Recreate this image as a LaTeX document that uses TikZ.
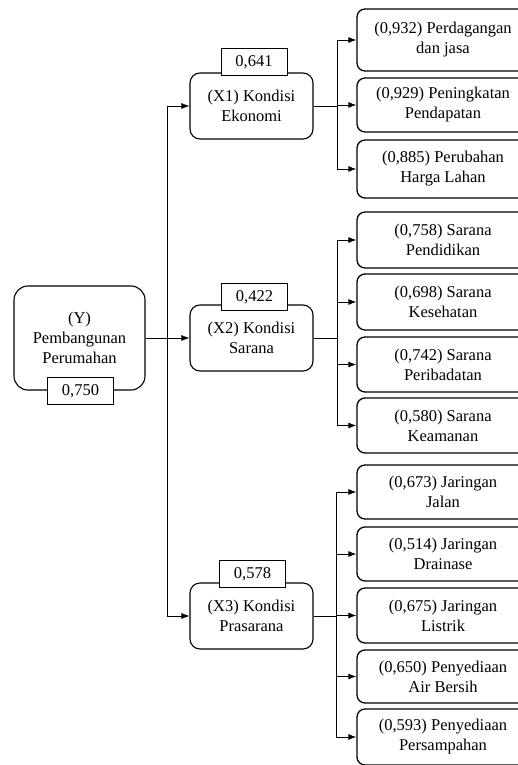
\documentclass[tikz,border=0pt]{standalone}
\usepackage{fontspec}
\setmainfont{Liberation Serif}
\usetikzlibrary{arrows.meta}

\tikzset{
  mainbox/.style={draw, line width=1.1pt, rounded corners=10pt, align=center, minimum width=123pt, minimum height=66pt, inner sep=0pt},
  ybox/.style={mainbox, minimum width=131pt, minimum height=104pt, rounded corners=14pt},
  subbox/.style={draw, line width=1.3pt, rounded corners=8pt, align=center, minimum width=172pt, minimum height=55pt, inner sep=0pt},
  valbox/.style={draw, line width=1pt, fill=white, minimum width=66pt, minimum height=27pt, inner sep=0pt},
  link/.style={line width=0.8pt},
  arr/.style={link, -{Latex[length=8pt,width=6pt]}}
}

\begin{document}
\begin{tikzpicture}[x=1pt, y=-1pt, font=\fontsize{16.5}{20}\selectfont]
\useasboundingbox (0,0) rectangle (518,765);
\clip (0,0) rectangle (518,765);
% variabel utama
\node[ybox] (Y) at (79.5,338) {(Y)\\Pembangunan\\Perumahan};
\node[valbox] (vY) at (80.5,391) {0,750};
\node[mainbox] (X1) at (251.5,106) {(X1) Kondisi\\Ekonomi};
\node[valbox] (v1) at (254,62) {0,641};
\node[mainbox] (X2) at (251.5,338) {(X2) Kondisi\\Sarana};
\node[valbox] (v2) at (254.5,297) {0,422};
\node[mainbox] (X3) at (251.5,616) {(X3) Kondisi\\Prasarana};
\node[valbox] (v3) at (252.5,574) {0,578};
% indikator
\node[subbox, minimum height=62pt] (a1) at (443,40) {(0,932) Perdagangan\\dan jasa};
\node[subbox, minimum height=54pt] (a2) at (443,105) {(0,929) Peningkatan\\Pendapatan};
\node[subbox, minimum height=58pt] (a3) at (443,169) {(0,885) Perubahan\\Harga Lahan};
\node[subbox, minimum height=56pt] (b1) at (443,240) {(0,758) Sarana\\Pendidikan};
\node[subbox, minimum height=56pt] (b2) at (443,302) {(0,698) Sarana\\Kesehatan};
\node[subbox] (b3) at (443,364.5) {(0,742) Sarana\\Peribadatan};
\node[subbox] (b4) at (443,425.5) {(0,580) Sarana\\Keamanan};
\node[subbox, minimum height=54pt] (c1) at (443,492) {(0,673) Jaringan\\Jalan};
\node[subbox, minimum height=54pt] (c2) at (443,554) {(0,514) Jaringan\\Drainase};
\node[subbox] (c3) at (443,615.5) {(0,675) Jaringan\\Listrik};
\node[subbox, minimum height=53pt] (c4) at (443,676.5) {(0,650) Penyediaan\\Air Bersih};
\node[subbox, minimum height=56pt] (c5) at (443,737) {(0,593) Penyediaan\\Persampahan};
% garis penghubung
\coordinate (t0) at (167,338);
\coordinate (s1) at (337,106);
\coordinate (s2) at (337,338);
\coordinate (s3) at (336,616);
\draw[arr] (Y) -- (X2);
\draw[arr] (t0) |- (X1);
\draw[arr] (t0) |- (X3);
\draw[link] (X1) -- (s1);
\draw[link] (X2) -- (s2);
\draw[link] (X3) -- (s3);
\foreach \n in {a1,a2,a3} \draw[arr] (s1) |- (\n);
\foreach \n in {b1,b2,b3,b4} \draw[arr] (s2) |- (\n);
\foreach \n in {c1,c2,c3,c4,c5} \draw[arr] (s3) |- (\n);
\end{tikzpicture}
\end{document}
